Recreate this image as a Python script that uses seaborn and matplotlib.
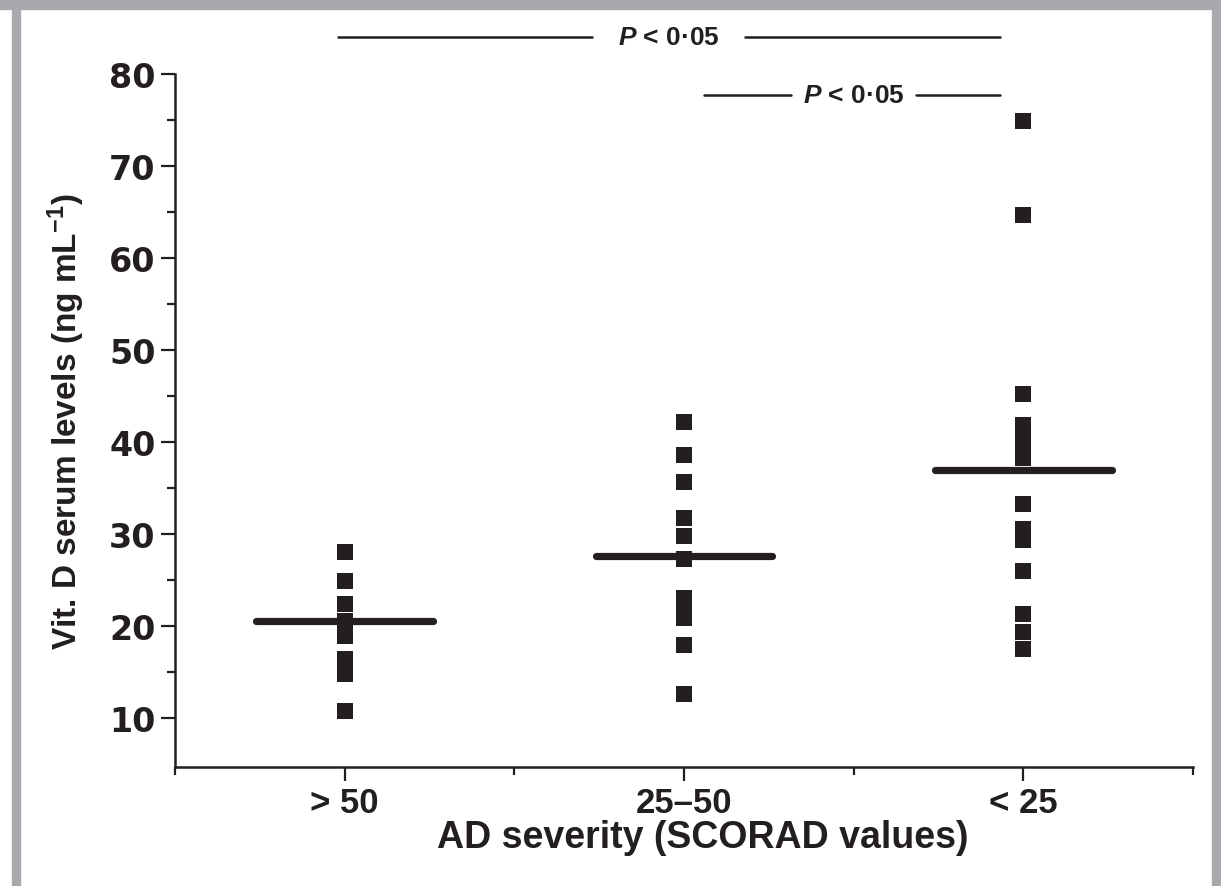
import numpy as np
import pandas as pd
import matplotlib
matplotlib.use("Agg")
import matplotlib.pyplot as plt
import seaborn as sns
from matplotlib.patches import Rectangle

# values
severity = ["> 50", "25\u201350", "< 25"]
vitd_severe = [28.0, 24.9, 22.4, 20.5, 18.9, 16.4, 14.8, 10.8]
vitd_moderate = [42.2, 38.6, 35.6, 31.7, 29.8, 27.3, 23.1, 22.0, 20.9, 17.9, 12.6]
vitd_mild = [74.8, 64.6, 45.2, 41.8, 40.8, 39.8, 38.2, 33.3, 30.5, 29.4,
             26.0, 21.3, 19.4, 17.5]
group_means = [20.5, 27.6, 37.0]

df = pd.DataFrame({
    "group": [severity[0]]*len(vitd_severe) + [severity[1]]*len(vitd_moderate)
             + [severity[2]]*len(vitd_mild),
    "vitd": vitd_severe + vitd_moderate + vitd_mild,
})

sns.set_style("ticks")
fonts = ["Liberation Sans", "DejaVu Sans"]
plt.rcParams["font.family"] = fonts
plt.rcParams["mathtext.fontset"] = "custom"
plt.rcParams["mathtext.rm"] = "Liberation Sans:bold"
plt.rcParams["mathtext.it"] = "Liberation Sans:italic:bold"
plt.rcParams["mathtext.bf"] = "Liberation Sans:bold"

ink = "#231f20"
fig = plt.figure(figsize=(12.21, 8.87), dpi=100)
ax = fig.add_axes([175/1221, (887-768)/887, (1193-175)/1221, (768-74.5)/887])

sns.stripplot(data=df, x="group", y="vitd", order=severity, jitter=False,
              marker="s", s=11, color=ink, linewidth=0, ax=ax, zorder=2)

# mean bars
for i, m in enumerate(group_means):
    ax.hlines(m, i - 0.26, i + 0.26, color=ink, lw=5.2, zorder=3,
              capstyle="round")

ax.set_xlim(-0.5, 2.5)
ax.set_ylim(4.7, 80)
ax.set_yticks(np.arange(10, 81, 10))
ax.set_yticks(np.arange(15, 80, 10), minor=True)
ax.set_xticks([0, 1, 2])
ax.set_xticks([-0.5, 0.5, 1.5, 2.5], minor=True)
ax.set_xticklabels(severity, fontsize=25, fontweight="bold")
for lab in ax.get_yticklabels():
    lab.set_fontfamily("DejaVu Sans")
    lab.set_fontweight("bold")
    lab.set_fontsize(24)
ax.tick_params(axis="both", which="major", length=10, width=1.6, color=ink,
               labelcolor=ink)
ax.tick_params(axis="both", which="minor", length=6, width=1.6, color=ink)
ax.tick_params(axis="y", pad=4)
ax.tick_params(axis="x", pad=4)
sns.despine(ax=ax)
for sp in ["left", "bottom"]:
    ax.spines[sp].set_linewidth(1.8)
    ax.spines[sp].set_color(ink)

ax.set_xlabel("AD severity (SCORAD values)", fontsize=27, fontweight="bold",
              color=ink, labelpad=0)
ax.xaxis.set_label_coords(0.518, -0.075)
ax.set_ylabel(r"Vit. D serum levels (ng $\mathrm{mL}^{-1}$)", fontsize=24,
              fontweight="bold", color=ink, labelpad=16)

# significance brackets
def sig(x0, x1, xt, y, gap):
    ax.plot([x0, xt - gap], [y, y], color=ink, lw=1.8, clip_on=False)
    ax.plot([xt + gap, x1], [y, y], color=ink, lw=1.8, clip_on=False)
    ax.text(xt, y, "$P$ < 0\u00b705", ha="center", va="center", fontsize=19,
            fontweight="bold", color=ink, clip_on=False)

sig(-0.02, 1.93, 0.955, 83.96, 0.225)
sig(1.06, 1.93, 1.5, 77.7, 0.185)

# grey frame around the figure
grey = "#a7a9ac"
fig.patches.append(Rectangle((0, 1 - 10/887), 1, 10/887, transform=fig.transFigure,
                             color=grey, zorder=0))
fig.patches.append(Rectangle((12/1221, 0), 8/1221, 1, transform=fig.transFigure,
                             color=grey, zorder=0))
fig.patches.append(Rectangle((1 - 9/1221, 0), 9/1221, 1, transform=fig.transFigure,
                             color=grey, zorder=0))

fig.savefig("out.png", dpi=100)
